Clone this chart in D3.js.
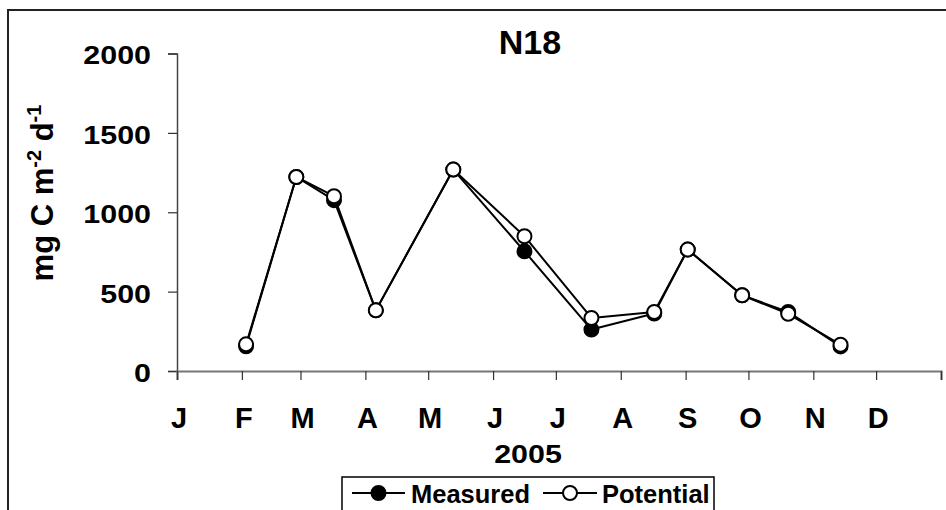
<!DOCTYPE html>
<html>
<head>
<meta charset="utf-8">
<script src="https://cdn.jsdelivr.net/npm/d3@7"></script>
<style>
  html, body { margin: 0; padding: 0; background: #fff; }
  svg { display: block; }
  text { font-family: "Liberation Sans", Arial, sans-serif; font-weight: bold; fill: #000; }
</style>
</head>
<body>
<svg id="chart" width="946" height="510"></svg>
<script>
// Sampling dates at station N18, 2005
const sampleDates = ["2005-02-03", "2005-02-27", "2005-03-17", "2005-04-06", "2005-05-13", "2005-06-16",
                     "2005-07-18", "2005-08-17", "2005-09-02", "2005-09-28", "2005-10-20", "2005-11-14"];
// Primary production, mg C m-2 d-1
const measured  = [156, 1222, 1076, 382, 1269, 754, 261, 362, 765, 477, 372, 155];
const potential = [168, 1222, 1101, 382, 1269, 849, 334, 372, 765, 477, 360, 166];
const monthLabels = ["J", "F", "M", "A", "M", "J", "J", "A", "S", "O", "N", "D"];
const yTicks = [0, 500, 1000, 1500, 2000];
const chartTitle = "N18";
const xTitle = "2005";
const seriesNames = ["Measured", "Potential"];

const parse = d3.utcParse("%Y-%m-%d");
const svg = d3.select("#chart");
const numStretch = 1.17;   // numerals are set wide

// outer chart frame
svg.append("rect")
  .attr("x", 8).attr("y", 10).attr("width", 1000).attr("height", 600)
  .attr("fill", "none").attr("stroke", "#222").attr("stroke-width", 2);

const x = d3.scaleUtc()
  .domain([parse("2005-01-01"), parse("2006-01-01")])
  .range([177, 941]);
const y = d3.scaleLinear().domain([0, 2000]).range([371, 53.5]);

// y axis
const yAxis = svg.append("g").attr("transform", "translate(177,0)")
  .call(d3.axisLeft(y).tickValues(yTicks).tickSize(9).tickPadding(17).tickFormat(d3.format("d")));
yAxis.select(".domain").attr("stroke", "#444").attr("stroke-width", 1.5);
yAxis.selectAll(".tick line").attr("stroke", "#333").attr("stroke-width", 1.2);
yAxis.selectAll(".tick text")
  .style("font-size", "26px").style("font-family", "'Liberation Sans', Arial, sans-serif")
  .style("font-weight", "bold")
  .attr("x", -26 / numStretch)
  .attr("dy", "0.4em")
  .attr("transform", `scale(${numStretch},1)`);

// x axis: month boundaries
const monthStarts = d3.utcMonths(parse("2005-01-01"), parse("2006-01-02"));
const xAxis = svg.append("g").attr("transform", "translate(0,371)")
  .call(d3.axisBottom(x).tickValues(monthStarts).tickSize(9).tickFormat(() => ""));
xAxis.select(".domain").attr("stroke", "#777").attr("stroke-width", 2.2);
xAxis.selectAll(".tick line").attr("stroke", "#333").attr("stroke-width", 1.2);

svg.append("g").selectAll("text")
  .data(monthLabels)
  .join("text")
  .attr("x", (d, i) => x(monthStarts[i]) + 2)
  .attr("y", 427.5)
  .attr("text-anchor", "middle")
  .style("font-size", "29px")
  .text(d => d);

// titles
svg.append("text").attr("x", 530).attr("y", 53.5).attr("text-anchor", "middle")
  .style("font-size", "34px").text(chartTitle);
svg.append("text")
  .attr("transform", `translate(528,462.5) scale(${numStretch},1)`)
  .attr("text-anchor", "middle")
  .style("font-size", "26px").text(xTitle);

const yTitle = svg.append("text")
  .attr("transform", "translate(53,193) rotate(-90)")
  .attr("text-anchor", "middle")
  .style("font-size", "31px");
yTitle.append("tspan").text("mg C m");
yTitle.append("tspan").attr("dy", -12).style("font-size", "20px").text("-2");
yTitle.append("tspan").attr("dy", 12).text(" d");
yTitle.append("tspan").attr("dy", -12).style("font-size", "20px").text("-1");

// series
const rows = sampleDates.map((d, i) => ({ date: parse(d), m: measured[i], p: potential[i] }));
const series = [
  { key: "m", fill: "#000" },
  { key: "p", fill: "#fff" }
];
const line = key => d3.line().x(d => x(d.date)).y(d => y(d[key]));

series.forEach(s => {
  svg.append("path").datum(rows)
    .attr("d", line(s.key))
    .attr("fill", "none").attr("stroke", "#000").attr("stroke-width", 2)
    .attr("stroke-linejoin", "round");
});
series.forEach(s => {
  svg.append("g").selectAll("circle").data(rows).join("circle")
    .attr("cx", d => x(d.date)).attr("cy", d => y(d[s.key]))
    .attr("r", 7)
    .attr("fill", s.fill).attr("stroke", "#000").attr("stroke-width", 2);
});

// legend
const lg = svg.append("g");
lg.append("rect").attr("x", 342).attr("y", 477).attr("width", 372).attr("height", 60)
  .attr("fill", "#fff").attr("stroke", "#000").attr("stroke-width", 1.5);
const legendItems = [
  { name: seriesNames[0], fill: "#000", x0: 352, x1: 405, tx: 411 },
  { name: seriesNames[1], fill: "#fff", x0: 543, x1: 597, tx: 602 }
];
legendItems.forEach(it => {
  lg.append("line").attr("x1", it.x0).attr("x2", it.x1).attr("y1", 493).attr("y2", 493)
    .attr("stroke", "#000").attr("stroke-width", 2);
  lg.append("circle").attr("cx", (it.x0 + it.x1) / 2).attr("cy", 493).attr("r", 7)
    .attr("fill", it.fill).attr("stroke", "#000").attr("stroke-width", 2);
  lg.append("text").attr("x", it.tx).attr("y", 502.5)
    .style("font-size", "25.5px").text(it.name);
});
</script>
</body>
</html>
